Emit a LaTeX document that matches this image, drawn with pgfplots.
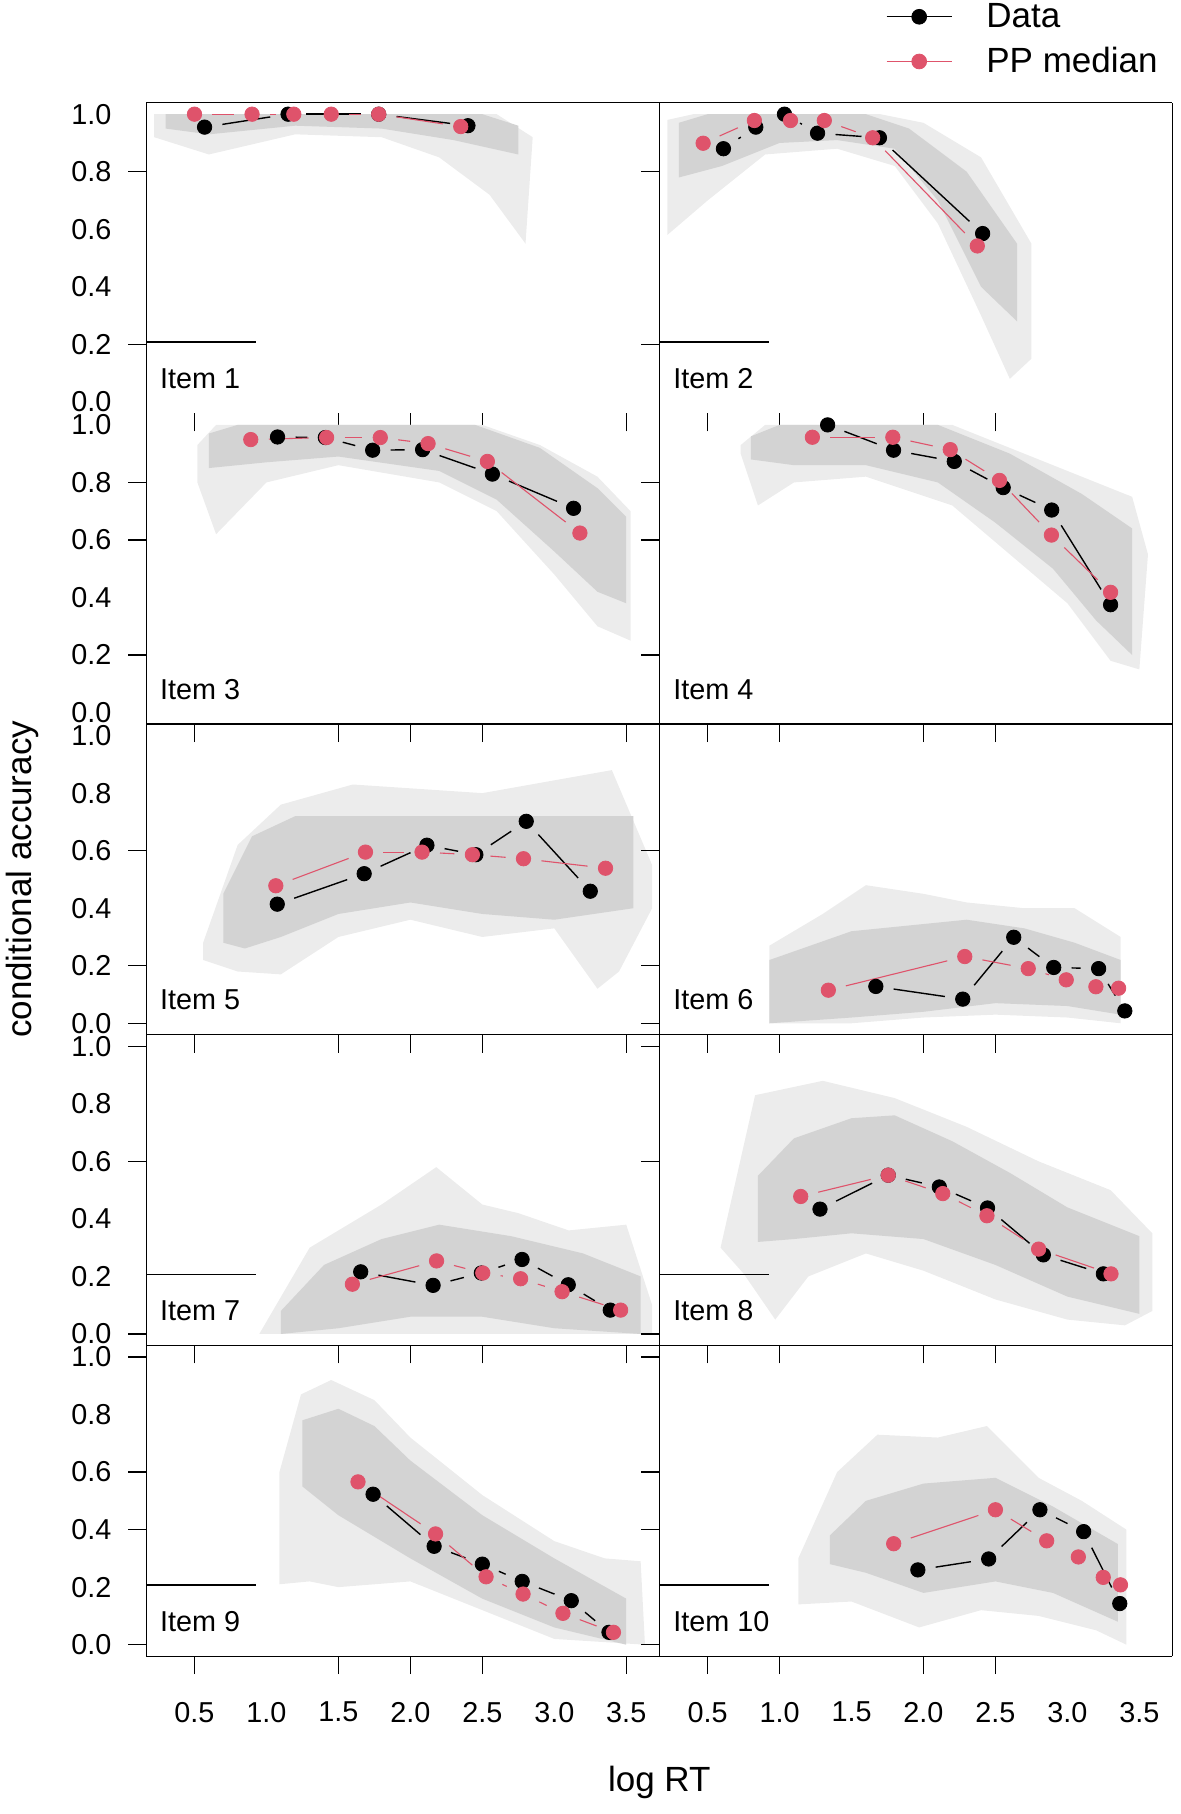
\documentclass[border=0pt]{standalone}
\usepackage{fontspec}
\setmainfont{Liberation Sans}
\usepackage{pgfplots}
\pgfplotsset{compat=1.18}
\definecolor{ppred}{HTML}{DF536B}
\definecolor{bandin}{HTML}{D3D3D3}
\definecolor{bandout}{HTML}{ECECEC}
\newcommand\tfont{\fontsize{14.4}{17}\selectfont}
\newcommand\lfont{\fontsize{17.5}{21}\selectfont}
\pgfplotsset{
  panel/.style={
    width=256.5pt, height=155.35pt, scale only axis, anchor=south west,
    xmin=0.1644, xmax=3.729, ymin=-0.04, ymax=1.04,
    axis line style={draw=none},
    tick align=outside, xtick pos=bottom, ytick pos=left,
    major tick length=0pt,
    tick style={black, line width=0.6pt},
    xtick={0.5,1,1.5,2,2.5,3,3.5}, xticklabels={},
    ytick={0,0.2,0.4,0.6,0.8,1}, yticklabels={},
    extra x tick labels={}, extra y tick labels={},
    extra x tick style={major tick length=9pt},
    extra y tick style={major tick length=9pt},
    yticklabel style={font=\tfont, anchor=east, xshift=-17.25pt, inner sep=0pt},
    xticklabel style={font=\tfont, anchor=center, yshift=-28pt, inner sep=0pt},
  },
  col1/.style={extra x ticks={0.5,1.5,2,2.5,3.5}},
  col2/.style={extra x ticks={0.5,1,2,2.5}},
  ylab/.style={yticklabels={0.0,0.2,0.4,0.6,0.8,1.0}},
  xlab/.style={xticklabels={0.5,1.0,1.5,2.0,2.5,3.0,3.5}},
  blkseg/.style={black, line width=0.7pt, shorten <=9pt, shorten >=9pt, forget plot},
  redseg/.style={ppred, line width=0.55pt, shorten <=9pt, shorten >=9pt, forget plot},
  blkpt/.style={only marks, mark=*, mark size=3.6pt, mark options={draw=black, fill=black}},
  redpt/.style={only marks, mark=*, mark size=3.6pt, mark options={draw=ppred, fill=ppred}},
  outband/.style={draw=none, fill=bandout, forget plot},
  inband/.style={draw=none, fill=bandin, forget plot},
}
\newcommand\bs[2]{\addplot[blkseg] coordinates {(#1) (#2)};}
\newcommand\rs[2]{\addplot[redseg] coordinates {(#1) (#2)};}
\newcommand\itemlab[1]{\node[anchor=base west, inner sep=0pt, font=\tfont] at (axis description cs:0.0265,0.0806) {#1};}
\newcommand\shortline{\addplot[black, line width=0.9pt, forget plot] coordinates {(0.1644,0.207) (0.924,0.207)};}
\begin{document}
\begin{tikzpicture}
\useasboundingbox (0,0) rectangle (590.5pt,907pt);
% ---------------- Panel 1
\begin{axis}[panel, col1, ylab, extra y ticks={0.2,0.8}, at={(73.1pt,700.3pt)}]
\addplot[outband] coordinates {(0.22,1.0) (2.6,1.0) (2.85,0.92) (2.8,0.55) (2.55,0.72) (2.2,0.85) (1.8,0.92) (1.2,0.93) (0.6,0.86) (0.22,0.92)};
\addplot[inband] coordinates {(0.3,1.0) (2.5,1.0) (2.75,0.96) (2.75,0.86) (2.3,0.91) (1.8,0.95) (1.2,0.96) (0.6,0.93) (0.3,0.95)};
\shortline
\bs{0.57,0.955}{1.15,1.0}\bs{1.15,1.0}{1.78,1.0}\bs{1.78,1.0}{2.40,0.96}
\addplot[blkpt] coordinates {(0.57,0.955) (1.15,1.0) (1.78,1.0) (2.40,0.96)};
\rs{0.50,1.0}{0.90,1.0}\rs{0.90,1.0}{1.19,1.0}\rs{1.45,1.0}{1.78,1.0}\rs{1.78,1.0}{2.35,0.957}
\addplot[redpt] coordinates {(0.50,1.0) (0.90,1.0) (1.19,1.0) (1.45,1.0) (1.78,1.0) (2.35,0.957)};
\itemlab{Item 1}
\end{axis}
% ---------------- Panel 2
\begin{axis}[panel, col2, extra y ticks={0.2,0.8}, at={(329.65pt,700.3pt)},
  legend style={draw=none, fill=none, inner sep=0pt, outer sep=0pt,
    at={(axis description cs:0.4419,1.2035)}, anchor=west, font=\lfont,
    row sep=8.5pt, column sep=17pt, nodes={inner sep=0pt}},
  legend cell align=left]
\addplot[outband] coordinates {(0.22,0.98) (0.4,1.0) (1.7,1.0) (2.0,0.97) (2.4,0.85) (2.75,0.55) (2.75,0.15) (2.6,0.08) (2.4,0.30) (2.1,0.62) (1.8,0.82) (1.4,0.88) (0.9,0.86) (0.5,0.70) (0.22,0.58)};
\addplot[inband] coordinates {(0.3,0.97) (0.5,1.0) (1.6,1.0) (1.9,0.95) (2.3,0.80) (2.65,0.55) (2.65,0.28) (2.4,0.40) (2.1,0.70) (1.8,0.88) (1.4,0.91) (1.0,0.90) (0.6,0.82) (0.3,0.78)};
\shortline
\bs{0.61,0.880}{0.835,0.955}\bs{1.034,1.0}{1.264,0.934}\bs{1.264,0.934}{1.694,0.918}\bs{1.694,0.918}{2.411,0.585}
\addplot[blkpt, legend image code/.code={\draw[black, line width=0.7pt] (0pt,0pt) -- (32.5pt,0pt); \draw[black, only marks, mark=*, mark size=3.7pt] plot coordinates {(16.25pt,0pt)};}]
  coordinates {(0.61,0.880) (0.835,0.955) (1.034,1.0) (1.264,0.934) (1.694,0.918) (2.411,0.585)};
\addlegendentry{Data}
\rs{0.469,0.899}{0.825,0.978}\rs{1.311,0.978}{1.647,0.918}\rs{1.647,0.918}{2.374,0.542}
\addplot[redpt, legend image code/.code={\draw[ppred, line width=0.55pt] (0pt,0pt) -- (32.5pt,0pt); \draw[ppred, only marks, mark=*, mark size=3.7pt] plot coordinates {(16.25pt,0pt)};}]
  coordinates {(0.469,0.899) (0.825,0.978) (1.076,0.978) (1.311,0.978) (1.647,0.918) (2.374,0.542)};
\addlegendentry{PP median}
\itemlab{Item 2}
\end{axis}
% ---------------- Panel 3
\begin{axis}[panel, col1, ylab, extra y ticks={0.2,0.6,0.8}, at={(73.1pt,544.95pt)}]
\addplot[outband] coordinates {(0.52,0.93) (0.65,1.0) (2.5,1.0) (2.9,0.93) (3.3,0.82) (3.53,0.70) (3.53,0.25) (3.3,0.30) (3.0,0.48) (2.6,0.70) (2.2,0.80) (1.5,0.86) (1.0,0.80) (0.65,0.62) (0.52,0.80)};
\addplot[inband] coordinates {(0.6,0.97) (0.8,1.0) (2.45,1.0) (2.9,0.92) (3.3,0.78) (3.5,0.68) (3.5,0.38) (3.3,0.42) (3.0,0.56) (2.6,0.74) (2.2,0.84) (1.5,0.89) (1.0,0.87) (0.6,0.85)};
\bs{1.077,0.958}{1.409,0.956}\bs{1.409,0.956}{1.738,0.912}\bs{1.738,0.912}{2.085,0.914}\bs{2.085,0.914}{2.570,0.829}\bs{2.570,0.829}{3.134,0.710}
\addplot[blkpt] coordinates {(1.077,0.958) (1.409,0.956) (1.738,0.912) (2.085,0.914) (2.570,0.829) (3.134,0.710)};
\rs{0.891,0.949}{1.418,0.956}\rs{1.418,0.956}{1.791,0.956}\rs{1.791,0.956}{2.123,0.935}\rs{2.123,0.935}{2.535,0.873}\rs{2.535,0.873}{3.178,0.624}
\addplot[redpt] coordinates {(0.891,0.949) (1.418,0.956) (1.791,0.956) (2.123,0.935) (2.535,0.873) (3.178,0.624)};
\itemlab{Item 3}
\end{axis}
% ---------------- Panel 4
\begin{axis}[panel, col2, extra y ticks={0.2,0.6,0.8}, at={(329.65pt,544.95pt)}]
\addplot[outband] coordinates {(0.73,0.93) (0.9,1.0) (2.2,1.0) (2.6,0.92) (3.1,0.82) (3.45,0.75) (3.56,0.55) (3.5,0.15) (3.3,0.18) (3.0,0.38) (2.6,0.55) (2.2,0.72) (1.6,0.82) (1.1,0.80) (0.85,0.72) (0.73,0.9)};
\addplot[inband] coordinates {(0.8,0.96) (1.0,1.0) (2.1,1.0) (2.6,0.90) (3.1,0.76) (3.45,0.64) (3.45,0.2) (3.2,0.32) (2.9,0.50) (2.5,0.66) (2.1,0.80) (1.6,0.86) (1.1,0.86) (0.8,0.88)};
\bs{1.334,1.0}{1.792,0.912}\bs{1.792,0.912}{2.214,0.873}\bs{2.214,0.873}{2.554,0.782}\bs{2.554,0.782}{2.891,0.704}\bs{2.891,0.704}{3.300,0.375}
\addplot[blkpt] coordinates {(1.334,1.0) (1.792,0.912) (2.214,0.873) (2.554,0.782) (2.891,0.704) (3.300,0.375)};
\rs{1.228,0.957}{1.787,0.957}\rs{1.787,0.957}{2.186,0.914}\rs{2.186,0.914}{2.528,0.807}\rs{2.528,0.807}{2.889,0.617}\rs{2.889,0.617}{3.300,0.418}
\addplot[redpt] coordinates {(1.228,0.957) (1.787,0.957) (2.186,0.914) (2.528,0.807) (2.889,0.617) (3.300,0.418)};
\itemlab{Item 4}
\end{axis}
% ---------------- Panel 5
\begin{axis}[panel, col1, ylab, extra y ticks={0,0.2,0.6}, at={(73.1pt,389.6pt)}]
\addplot[outband] coordinates {(0.56,0.28) (0.8,0.62) (1.1,0.76) (1.6,0.83) (2.5,0.80) (3.4,0.88) (3.68,0.55) (3.68,0.40) (3.45,0.18) (3.3,0.12) (3.0,0.33) (2.5,0.30) (2.0,0.36) (1.5,0.30) (1.1,0.17) (0.8,0.18) (0.56,0.22)};
\addplot[inband] coordinates {(0.7,0.45) (0.9,0.65) (1.2,0.72) (3.55,0.72) (3.55,0.40) (3.0,0.36) (2.5,0.38) (2.0,0.42) (1.5,0.38) (1.1,0.30) (0.85,0.26) (0.7,0.28)};
\bs{1.075,0.414}{1.679,0.520}\bs{1.679,0.520}{2.115,0.619}\bs{2.115,0.619}{2.455,0.586}\bs{2.455,0.586}{2.805,0.702}\bs{2.805,0.702}{3.250,0.459}
\addplot[blkpt] coordinates {(1.075,0.414) (1.679,0.520) (2.115,0.619) (2.455,0.586) (2.805,0.702) (3.250,0.459)};
\rs{1.065,0.478}{1.688,0.595}\rs{1.688,0.595}{2.081,0.595}\rs{2.081,0.595}{2.431,0.586}\rs{2.431,0.586}{2.786,0.572}\rs{2.786,0.572}{3.356,0.539}
\addplot[redpt] coordinates {(1.065,0.478) (1.688,0.595) (2.081,0.595) (2.431,0.586) (2.786,0.572) (3.356,0.539)};
\itemlab{Item 5}
\end{axis}
% ---------------- Panel 6
\begin{axis}[panel, col2, extra y ticks={0,0.2,0.6}, at={(329.65pt,389.6pt)}]
\addplot[outband] coordinates {(0.93,0.27) (1.3,0.38) (1.6,0.48) (2.0,0.45) (2.3,0.42) (2.7,0.40) (3.05,0.40) (3.37,0.30) (3.37,0.0) (3.0,0.02) (2.5,0.03) (2.0,0.02) (1.5,0.0) (0.93,0.0)};
\addplot[inband] coordinates {(0.93,0.22) (1.5,0.32) (2.3,0.36) (2.7,0.33) (3.05,0.28) (3.37,0.22) (3.37,0.03) (3.0,0.06) (2.5,0.07) (2.0,0.04) (1.5,0.02) (0.93,0.0)};
\bs{1.669,0.128}{2.273,0.084}\bs{2.273,0.084}{2.627,0.299}\bs{2.627,0.299}{2.905,0.194}\bs{2.905,0.194}{3.217,0.190}\bs{3.217,0.190}{3.399,0.043}
\addplot[blkpt] coordinates {(1.669,0.128) (2.273,0.084) (2.627,0.299) (2.905,0.194) (3.217,0.190) (3.399,0.043)};
\rs{1.339,0.115}{2.287,0.232}\rs{2.287,0.232}{2.728,0.190}\rs{2.728,0.190}{2.992,0.151}
\addplot[redpt] coordinates {(1.339,0.115) (2.287,0.232) (2.728,0.190) (2.992,0.151) (3.198,0.127) (3.356,0.122)};
\itemlab{Item 6}
\end{axis}
% ---------------- Panel 7
\begin{axis}[panel, col1, ylab, extra y ticks={0,0.6,1}, at={(73.1pt,234.25pt)}]
\addplot[outband] coordinates {(0.95,0.0) (1.3,0.30) (1.8,0.45) (2.18,0.58) (2.5,0.45) (2.75,0.42) (3.1,0.36) (3.5,0.38) (3.68,0.10) (3.68,0.0)};
\addplot[inband] coordinates {(1.1,0.08) (1.4,0.24) (1.8,0.33) (2.2,0.38) (2.7,0.34) (3.2,0.28) (3.6,0.20) (3.6,0.0) (3.0,0.02) (2.5,0.06) (2.0,0.06) (1.5,0.02) (1.1,0.0)};
\shortline
\bs{1.655,0.216}{2.158,0.169}\bs{2.158,0.169}{2.493,0.212}\bs{2.493,0.212}{2.776,0.259}\bs{2.776,0.259}{3.097,0.171}\bs{3.097,0.171}{3.389,0.083}
\addplot[blkpt] coordinates {(1.655,0.216) (2.158,0.169) (2.493,0.212) (2.776,0.259) (3.097,0.171) (3.389,0.083)};
\rs{1.597,0.173}{2.182,0.254}\rs{2.182,0.254}{2.503,0.212}\rs{2.503,0.212}{2.766,0.192}\rs{2.766,0.192}{3.054,0.147}\rs{3.054,0.147}{3.461,0.083}
\addplot[redpt] coordinates {(1.597,0.173) (2.182,0.254) (2.503,0.212) (2.766,0.192) (3.054,0.147) (3.461,0.083)};
\itemlab{Item 7}
\end{axis}
% ---------------- Panel 8
\begin{axis}[panel, col2, extra y ticks={0,0.6,1}, at={(329.65pt,234.25pt)}]
\addplot[outband] coordinates {(0.59,0.30) (0.83,0.83) (1.3,0.88) (1.8,0.82) (2.3,0.72) (2.8,0.60) (3.3,0.50) (3.59,0.35) (3.59,0.08) (3.4,0.03) (3.0,0.05) (2.5,0.12) (2.0,0.22) (1.6,0.28) (1.2,0.20) (0.97,0.05) (0.75,0.21)};
\addplot[inband] coordinates {(0.85,0.55) (1.1,0.68) (1.5,0.75) (1.8,0.76) (2.2,0.67) (2.6,0.56) (3.0,0.44) (3.5,0.34) (3.5,0.07) (3.0,0.13) (2.5,0.24) (2.0,0.33) (1.5,0.35) (1.1,0.33) (0.85,0.32)};
\shortline
\bs{1.281,0.434}{1.755,0.552}\bs{1.755,0.552}{2.110,0.511}\bs{2.110,0.511}{2.445,0.438}\bs{2.445,0.438}{2.833,0.275}\bs{2.833,0.275}{3.250,0.209}
\addplot[blkpt] coordinates {(1.281,0.434) (1.755,0.552) (2.110,0.511) (2.445,0.438) (2.833,0.275) (3.250,0.209)};
\rs{1.147,0.478}{1.755,0.552}\rs{1.755,0.552}{2.134,0.488}\rs{2.134,0.488}{2.441,0.411}\rs{2.441,0.411}{2.800,0.295}\rs{2.800,0.295}{3.303,0.209}
\addplot[redpt] coordinates {(1.147,0.478) (1.755,0.552) (2.134,0.488) (2.441,0.411) (2.800,0.295) (3.303,0.209)};
\itemlab{Item 8}
\end{axis}
% ---------------- Panel 9
\begin{axis}[panel, col1, ylab, xlab, extra y ticks={0,0.4,0.6,1}, at={(73.1pt,78.9pt)}]
\addplot[outband] coordinates {(1.09,0.60) (1.24,0.87) (1.45,0.92) (1.75,0.85) (2.0,0.72) (2.5,0.52) (3.0,0.36) (3.35,0.30) (3.6,0.29) (3.63,0.0) (3.0,0.02) (2.5,0.12) (2.0,0.22) (1.5,0.20) (1.3,0.22) (1.09,0.21)};
\addplot[inband] coordinates {(1.25,0.78) (1.5,0.82) (1.75,0.76) (2.0,0.64) (2.5,0.45) (3.0,0.30) (3.5,0.16) (3.5,0.0) (3.0,0.06) (2.5,0.16) (2.0,0.30) (1.5,0.45) (1.25,0.55)};
\shortline
\bs{1.741,0.523}{2.165,0.342}\bs{2.165,0.342}{2.500,0.280}\bs{2.500,0.280}{2.777,0.220}\bs{2.777,0.220}{3.118,0.153}\bs{3.118,0.153}{3.380,0.043}
\addplot[blkpt] coordinates {(1.741,0.523) (2.165,0.342) (2.500,0.280) (2.777,0.220) (3.118,0.153) (3.380,0.043)};
\rs{1.636,0.566}{2.175,0.385}\rs{2.175,0.385}{2.526,0.236}\rs{2.526,0.236}{2.783,0.176}\rs{2.783,0.176}{3.060,0.109}\rs{3.060,0.109}{3.411,0.043}
\addplot[redpt] coordinates {(1.636,0.566) (2.175,0.385) (2.526,0.236) (2.783,0.176) (3.060,0.109) (3.411,0.043)};
\itemlab{Item 9}
\end{axis}
% ---------------- Panel 10
\begin{axis}[panel, col2, xlab, extra y ticks={0,0.4,0.6,1}, at={(329.65pt,78.9pt)}]
\addplot[outband] coordinates {(1.13,0.3) (1.4,0.6) (1.68,0.73) (2.1,0.72) (2.44,0.76) (2.8,0.58) (3.1,0.50) (3.41,0.40) (3.41,0.0) (3.2,0.05) (2.8,0.10) (2.4,0.12) (1.97,0.06) (1.5,0.15) (1.13,0.14)};
\addplot[inband] coordinates {(1.35,0.38) (1.6,0.50) (2.0,0.56) (2.5,0.58) (2.9,0.48) (3.35,0.35) (3.35,0.08) (2.9,0.18) (2.5,0.22) (2.0,0.18) (1.6,0.25) (1.35,0.28)};
\shortline
\bs{1.961,0.260}{2.453,0.298}\bs{2.453,0.298}{2.809,0.469}\bs{2.809,0.469}{3.113,0.393}\bs{3.113,0.393}{3.364,0.143}
\addplot[blkpt] coordinates {(1.961,0.260) (2.453,0.298) (2.809,0.469) (3.113,0.393) (3.364,0.143)};
\rs{1.793,0.351}{2.500,0.469}\rs{2.500,0.469}{2.856,0.361}
\addplot[redpt] coordinates {(1.793,0.351) (2.500,0.469) (2.856,0.361) (3.076,0.305) (3.249,0.234) (3.369,0.208)};
\itemlab{Item 10}
\end{axis}
% ---------------- frame lines
\begin{scope}[line width=0.65pt]
\draw (73.1pt,78.9pt) -- (73.1pt,855.65pt);
\draw (329.65pt,78.9pt) -- (329.65pt,855.65pt);
\draw (586.15pt,78.9pt) -- (586.15pt,855.65pt);
\draw (73.1pt,855.65pt) -- (586.15pt,855.65pt);
\draw (73.1pt,544.95pt) -- (586.15pt,544.95pt);
\draw (73.1pt,389.6pt) -- (586.15pt,389.6pt);
\draw (73.1pt,234.25pt) -- (586.15pt,234.25pt);
\draw (73.1pt,78.9pt) -- (586.15pt,78.9pt);
\end{scope}
\node[rotate=90, anchor=base, font=\lfont, inner sep=0pt] at (16pt,467.3pt) {conditional accuracy};
\node[anchor=base, font=\lfont, inner sep=0pt] at (329.65pt,11pt) {log RT};
\end{tikzpicture}
\end{document}
